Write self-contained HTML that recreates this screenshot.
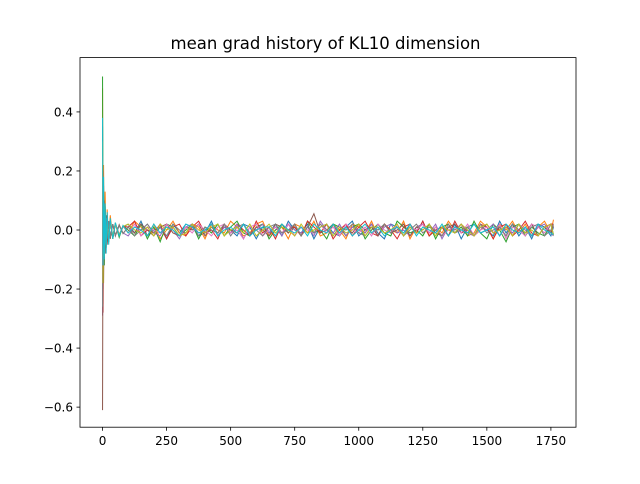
<!DOCTYPE html>
<html><head><meta charset="utf-8"><style>
body{margin:0;background:#fff;font-family:"DejaVu Sans","Liberation Sans",sans-serif}
svg text{font-family:"DejaVu Sans","Liberation Sans",sans-serif}
</style></head><body>
<svg id="chart" width="640" height="480" viewBox="0 0 640 480" xmlns="http://www.w3.org/2000/svg">
<rect width="640" height="480" fill="#fff"/>
<text x="325.5" y="49" font-size="16.5" text-anchor="middle" fill="#000">mean grad history of KL10 dimension</text>
<g id="marks"></g>
<g id="axes"></g>
</svg>
<script>
const steps=[0,2,4,7,10,14,18,24,30,40,50,65,80,100,125,150,175,200,225,250,275,300,325,350,375,400,425,450,475,500,525,550,575,600,625,650,675,700,725,750,775,800,825,850,875,900,925,950,975,1000,1025,1050,1075,1100,1125,1150,1175,1200,1225,1250,1275,1300,1325,1350,1375,1400,1425,1450,1475,1500,1525,1550,1575,1600,1625,1650,1675,1700,1725,1750,1760];
const s0=[0.35,-0.2,0.12,-0.08,0.06,-0.05,0.04,-0.03,0.03,-0.02,0.02,-0.015,0.01,
0.02,-0.01,0.03,-0.02,0.00,0.01,-0.03,0.02,-0.01,0.02,0.01,-0.02,-0.01,0.03,-0.02,0.01,0.00,
-0.02,0.02,0.01,-0.03,0.01,-0.01,0.02,-0.02,0.03,0.00,-0.01,0.02,-0.03,0.01,0.02,-0.01,-0.02,
0.01,0.03,-0.02,0.00,0.02,-0.01,-0.03,0.02,0.01,-0.02,0.02,-0.01,0.03,-0.02,0.00,0.01,-0.02,
0.02,-0.03,0.01,0.02,-0.01,0.00,-0.02,0.03,-0.01,0.02,-0.02,0.01,-0.03,0.02,0.01,-0.02,0.01];
const s1=[0.48,-0.25,0.22,-0.1,0.13,-0.06,0.07,-0.04,0.05,-0.03,0.025,-0.02,0.015,
-0.01,0.03,0.01,-0.02,0.02,-0.03,0.00,0.03,-0.01,-0.02,0.02,0.01,-0.03,0.02,0.00,-0.01,0.03,
0.01,-0.02,-0.01,0.02,0.03,-0.02,0.00,0.01,-0.03,0.02,0.01,-0.01,0.03,-0.02,-0.01,0.02,0.00,
-0.03,0.02,0.01,-0.01,0.03,-0.02,0.02,0.00,-0.01,0.03,-0.03,0.01,0.02,-0.02,0.01,-0.01,0.03,
0.00,0.02,-0.02,-0.01,0.03,0.01,-0.03,0.02,0.00,0.03,-0.01,0.02,-0.02,0.01,0.03,-0.01,0.035];
const s2=[0.52,-0.15,0.1,-0.12,0.08,-0.06,0.05,-0.04,0.035,-0.03,0.02,-0.025,0.015,
0.00,-0.02,0.02,-0.03,0.01,-0.04,0.02,0.01,-0.02,0.00,0.02,-0.03,0.01,-0.01,0.02,-0.02,0.01,
0.03,-0.01,-0.02,0.01,0.02,-0.03,0.00,0.02,-0.01,0.01,-0.02,0.03,-0.01,0.00,-0.03,0.02,0.01,
-0.02,0.01,0.02,-0.03,0.00,0.02,-0.01,-0.02,0.03,0.01,-0.01,0.00,-0.02,0.02,-0.03,0.01,0.02,
-0.01,0.01,-0.02,0.03,-0.01,-0.03,0.02,0.00,-0.04,0.01,0.02,-0.02,0.01,-0.01,-0.02,0.02,-0.015];
const s3=[0.2,-0.28,0.15,-0.1,0.07,-0.05,0.05,-0.035,0.03,-0.025,0.02,-0.015,0.012,
0.01,0.03,-0.02,0.00,-0.01,0.02,-0.03,0.01,0.02,-0.02,0.01,0.03,-0.01,0.00,-0.03,0.02,-0.01,
0.02,0.00,-0.02,0.03,-0.01,0.01,-0.03,0.02,0.00,0.01,-0.02,0.03,0.01,-0.01,0.02,-0.03,0.00,
0.02,-0.02,0.01,0.03,-0.01,-0.02,0.02,0.00,-0.03,0.01,0.02,-0.01,0.03,-0.02,0.00,0.01,-0.02,
0.03,-0.01,0.00,-0.02,0.02,0.01,-0.03,0.01,0.02,-0.02,0.00,0.03,-0.01,-0.02,0.01,0.02,0.02];
const s4=[-0.29,0.15,-0.1,0.08,-0.06,0.04,-0.04,0.03,-0.025,0.02,-0.02,0.015,-0.01,
-0.02,0.01,0.00,0.02,-0.01,-0.02,0.02,0.00,-0.03,0.01,0.02,-0.01,0.00,0.02,-0.02,0.01,-0.01,
0.02,-0.03,0.01,0.00,0.02,-0.01,0.01,-0.02,0.02,0.00,-0.01,0.01,-0.02,0.03,0.00,-0.01,0.02,
-0.02,0.01,0.00,-0.01,0.02,-0.02,0.01,0.02,-0.01,0.00,-0.02,0.01,0.02,-0.01,0.02,-0.03,0.01,
0.00,0.02,-0.01,-0.02,0.01,0.00,0.02,-0.02,0.01,-0.01,0.02,0.00,-0.02,0.01,0.02,-0.01,-0.02];
const s5=[-0.61,0.2,-0.18,0.1,-0.08,0.05,-0.05,0.03,-0.03,0.02,-0.02,0.018,-0.012,
0.01,-0.01,0.02,0.00,-0.02,0.01,0.02,-0.01,-0.02,0.01,0.00,0.02,-0.02,0.01,-0.01,0.02,0.00,
-0.01,0.02,-0.02,0.01,0.00,-0.02,0.02,0.01,-0.01,0.02,-0.02,0.01,0.055,-0.01,0.00,0.02,-0.02,
0.01,-0.01,0.02,0.00,0.01,-0.02,0.02,-0.01,0.00,0.02,-0.02,0.01,0.00,0.02,-0.01,-0.02,0.01,
0.02,-0.01,0.01,-0.02,0.00,0.02,-0.01,0.01,-0.02,0.02,0.00,-0.01,0.02,-0.02,0.01,-0.01,0.015];
const s6=[0.25,-0.12,0.09,-0.07,0.05,-0.04,0.03,-0.03,0.025,-0.02,0.018,-0.015,0.012,
-0.01,0.02,-0.02,0.01,0.00,-0.01,0.02,0.00,-0.02,0.01,-0.01,0.02,0.00,-0.02,0.01,0.02,-0.01,
0.00,-0.03,0.01,0.02,-0.02,0.00,0.01,-0.01,0.02,-0.02,0.01,0.00,-0.01,0.02,-0.01,0.01,-0.02,
0.02,0.00,-0.01,0.01,-0.02,0.02,0.00,-0.01,0.02,-0.02,0.01,0.00,0.02,-0.01,0.01,-0.02,0.00,
0.01,-0.01,0.02,-0.02,0.00,0.01,-0.01,0.02,-0.03,0.01,0.00,-0.02,0.02,0.01,-0.01,0.02,-0.018];
const s7=[-0.26,0.12,-0.1,0.07,-0.05,0.04,-0.03,0.03,-0.025,0.02,-0.018,0.015,-0.012,
0.01,-0.02,0.00,0.02,-0.01,0.01,-0.02,0.02,0.00,-0.01,0.02,-0.02,0.01,0.00,-0.01,0.02,-0.02,
0.01,0.02,-0.01,0.00,-0.02,0.01,0.02,-0.01,0.00,0.02,-0.02,0.01,-0.01,0.02,0.00,-0.02,0.01,
0.00,0.02,-0.01,-0.02,0.01,0.00,0.02,-0.01,0.01,-0.02,0.00,0.02,-0.01,0.01,0.00,-0.02,0.02,
-0.01,0.00,0.01,-0.02,0.02,-0.01,0.00,0.01,-0.02,0.02,0.00,-0.01,0.01,0.02,-0.02,0.00,0.02];
const s8=[0.3,-0.18,0.14,-0.09,0.06,-0.05,0.04,-0.035,0.03,-0.02,0.02,-0.016,0.012,
0.02,0.00,-0.01,0.01,-0.02,0.02,0.00,0.01,-0.02,-0.01,0.02,0.00,-0.01,0.01,0.02,-0.02,0.00,
0.01,-0.01,0.02,-0.02,0.00,0.02,-0.01,0.01,0.00,-0.02,0.02,-0.01,0.00,0.01,0.02,-0.02,0.01,
-0.01,0.00,0.02,-0.02,0.01,0.01,-0.01,0.00,0.02,-0.02,0.01,-0.01,0.00,0.02,-0.02,0.01,0.00,
-0.01,0.02,0.00,-0.02,0.01,0.02,-0.01,0.00,0.01,-0.02,0.02,-0.01,0.00,-0.02,0.01,0.02,-0.018];
const s9=[0.38,-0.12,0.18,-0.1,0.09,-0.08,0.06,-0.05,0.04,-0.03,0.025,-0.02,0.015,
-0.01,0.01,0.00,-0.02,0.02,-0.01,0.01,0.00,-0.02,0.02,0.01,-0.01,0.00,0.02,-0.02,0.00,0.01,
-0.01,0.02,-0.02,0.00,0.01,0.01,-0.02,0.02,0.00,-0.01,0.01,-0.02,0.02,0.00,-0.01,0.02,-0.01,
0.01,-0.02,0.00,0.02,-0.01,0.01,-0.02,0.00,0.01,-0.01,0.02,-0.02,0.01,0.00,-0.01,0.02,-0.02,
0.01,0.00,-0.01,0.02,-0.01,0.00,0.01,-0.02,0.02,0.00,-0.01,0.01,-0.02,0.02,0.00,-0.01,-0.016];
const seriesList=[s0,s1,s2,s3,s4,s5,s6,s7,s8,s9];
const colors=["#1f77b4","#ff7f0e","#2ca02c","#d62728","#9467bd","#8c564b","#e377c2","#7f7f7f","#bcbd22","#17becf"];
const xTicks=[0,250,500,750,1000,1250,1500,1750];
const yTicks=[-0.6,-0.4,-0.2,0.0,0.2,0.4];
const yTickLabels=["\u22120.6","\u22120.4","\u22120.2","0.0","0.2","0.4"];

const L=80,R=576,T=57.6,B=427.2;
const xMin=-88,xMax=1848,yMin=-0.668,yMax=0.584;
const xs=v=>L+(v-xMin)/(xMax-xMin)*(R-L);
const ys=v=>B-(v-yMin)/(yMax-yMin)*(B-T);
const NS="http://www.w3.org/2000/svg";
const marks=document.getElementById('marks');
seriesList.forEach((s,i)=>{
  const p=document.createElementNS(NS,'polyline');
  p.setAttribute('points',s.map((v,j)=>xs(steps[j]).toFixed(2)+','+ys(v).toFixed(2)).join(' '));
  p.setAttribute('fill','none');p.setAttribute('stroke',colors[i]);p.setAttribute('stroke-width','1');
  
  
  marks.appendChild(p);
});
const axes=document.getElementById('axes');
const frame=document.createElementNS(NS,'rect');
frame.setAttribute('x',L);frame.setAttribute('y',T);frame.setAttribute('width',R-L);frame.setAttribute('height',B-T);
frame.setAttribute('fill','none');frame.setAttribute('stroke','#000');frame.setAttribute('stroke-width','0.8');


axes.appendChild(frame);
xTicks.forEach(t=>{
  const x=xs(t);
  const l=document.createElementNS(NS,'line');
  l.setAttribute('x1',x);l.setAttribute('x2',x);l.setAttribute('y1',B);l.setAttribute('y2',B+3.5);l.setAttribute('stroke','#000');l.setAttribute('stroke-width','0.8');
  
  
  axes.appendChild(l);
  const tx=document.createElementNS(NS,'text');
  tx.setAttribute('x',x);tx.setAttribute('y',B+18);tx.setAttribute('font-size','12');tx.setAttribute('text-anchor','middle');
  tx.textContent=String(t);
  
  
  axes.appendChild(tx);
});
yTicks.forEach((t,i)=>{
  const y=ys(t);
  const l=document.createElementNS(NS,'line');
  l.setAttribute('x1',L-3.5);l.setAttribute('x2',L);l.setAttribute('y1',y);l.setAttribute('y2',y);l.setAttribute('stroke','#000');l.setAttribute('stroke-width','0.8');
  
  
  axes.appendChild(l);
  const tx=document.createElementNS(NS,'text');
  tx.setAttribute('x',L-7);tx.setAttribute('y',y+4.5);tx.setAttribute('font-size','12');tx.setAttribute('text-anchor','end');
  tx.textContent=yTickLabels[i];
  
  
  axes.appendChild(tx);
});
</script>
</body></html>
